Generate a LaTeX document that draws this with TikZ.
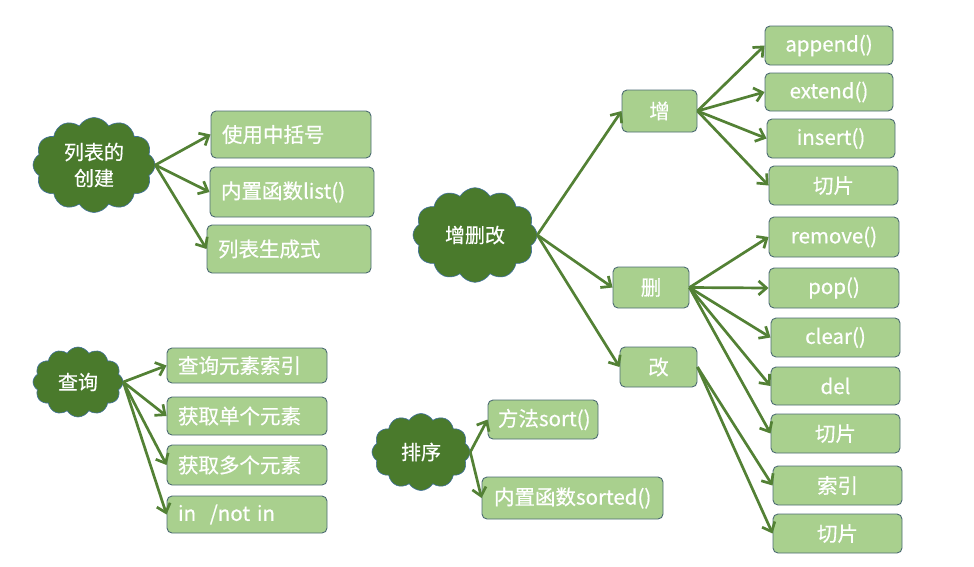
\documentclass[tikz,border=0pt]{standalone}
\usepackage{fontspec}
\newfontfamily\cjk[FakeBold=0.5]{Noto Sans CJK SC}
\usetikzlibrary{shapes.symbols,arrows.meta}
\definecolor{boxfill}{HTML}{A9D08E}
\definecolor{boxline}{HTML}{4C6B73}
\definecolor{cloudfill}{HTML}{4A7A2C}
\definecolor{cloudline}{HTML}{41719C}
\definecolor{arrowc}{HTML}{538135}
\tikzset{
  gbox/.style={draw=boxline, fill=boxfill, rounded corners=5pt, line width=0.9pt,
    text=white, inner sep=0pt, font=\cjk\fontsize{20.5}{24}\selectfont},
  lbox/.style={gbox, text width=#1, align=left},
  cbox/.style={gbox, align=center},
  gcloud/.style={cloud, cloud puffs=12, cloud puff arc=120, draw=cloudline, fill=cloudfill,
    line width=0.6pt, text=white, inner sep=0pt, align=center,
    font=\cjk\fontsize{20}{26}\selectfont},
  arr/.style={draw=arrowc, line width=2.7pt, -{Straight Barb[length=8pt,width=14pt,line width=2.7pt]}},
}
\begin{document}
\begin{tikzpicture}[x=1pt,y=-1pt]
\useasboundingbox (0,0) rectangle (974,566);
% clouds
\node[gcloud, minimum width=122pt, minimum height=95pt] (c1) at (94,165) {列表的\\创建};
\node[gcloud, minimum width=90pt, minimum height=70pt] (c2) at (78,382) {查询};
\node[gcloud, minimum width=98pt, minimum height=77pt] (c3) at (421,452) {排序};
\node[gcloud, minimum width=124pt, minimum height=80pt] (c4) at (475,235) {增删改};
% creation boxes
\node[lbox=138pt, minimum width=160pt, minimum height=47pt] (l1) at (291,134.5) {使用中括号};
\node[lbox=142pt, minimum width=164pt, minimum height=50pt] (l2) at (292,192) {内置函数list()};
\node[lbox=142pt, minimum width=164pt, minimum height=48pt] (l3) at (289,249) {列表生成式};
% query boxes
\node[lbox=138pt, minimum width=160pt, minimum height=35pt] (q1) at (247,365.5) {查询元素索引};
\node[lbox=138pt, minimum width=160pt, minimum height=38pt] (q2) at (247,416) {获取单个元素};
\node[lbox=138pt, minimum width=160pt, minimum height=40pt] (q3) at (247,465) {获取多个元素};
\node[lbox=138pt, minimum width=160pt, minimum height=37pt] (q4) at (247,514.5) {in \ /not in};
% sort boxes
\node[lbox=90pt, minimum width=110pt, minimum height=39pt] (s1) at (543,419.5) {方法sort()};
\node[lbox=157pt, minimum width=181pt, minimum height=42pt] (s2) at (572.5,498) {内置函数sorted()};
% add/delete/modify
\node[cbox, minimum width=75pt, minimum height=42pt] (z) at (659.5,111) {增};
\node[cbox, minimum width=76pt, minimum height=41pt] (d) at (651,287.5) {删};
\node[cbox, minimum width=77pt, minimum height=40pt] (g) at (658.5,367) {改};
% right column
\node[cbox, minimum width=128pt, minimum height=39pt] (a1) at (829,45.5) {append()};
\node[cbox, minimum width=128pt, minimum height=38pt] (a2) at (829,92) {extend()};
\node[cbox, minimum width=128pt, minimum height=39pt] (a3) at (831,138.5) {insert()};
\node[cbox, minimum width=129pt, minimum height=39pt] (a4) at (833.5,185.5) {切片};
\node[cbox, minimum width=130pt, minimum height=40pt] (r1) at (834,237) {remove()};
\node[cbox, minimum width=130pt, minimum height=40pt] (r2) at (834,288) {pop()};
\node[cbox, minimum width=129pt, minimum height=39pt] (r3) at (835.5,337.5) {clear()};
\node[cbox, minimum width=129pt, minimum height=38pt] (r4) at (835.5,386) {del};
\node[cbox, minimum width=129pt, minimum height=39pt] (r5) at (835.5,433.5) {切片};
\node[cbox, minimum width=129pt, minimum height=39pt] (m1) at (837.5,485.5) {索引};
\node[cbox, minimum width=129pt, minimum height=39pt] (m2) at (837.5,533.5) {切片};
% connectors
\foreach \t in {l1,l2,l3} \draw[arr] (c1.east) -- (\t.west);
\foreach \t in {q1,q2,q3,q4} \draw[arr] (c2.east) -- (\t.west);
\foreach \t in {s1,s2} \draw[arr] (c3.east) -- (\t.west);
\foreach \t in {z,d,g} \draw[arr] (c4.east) -- (\t.west);
\foreach \t in {a1,a2,a3,a4} \draw[arr] (z.east) -- (\t.west);
\foreach \t in {r1,r2,r3,r4,r5} \draw[arr] (d.east) -- (\t.west);
\foreach \t in {m1,m2} \draw[arr] (g.east) -- (\t.west);
\end{tikzpicture}
\end{document}
